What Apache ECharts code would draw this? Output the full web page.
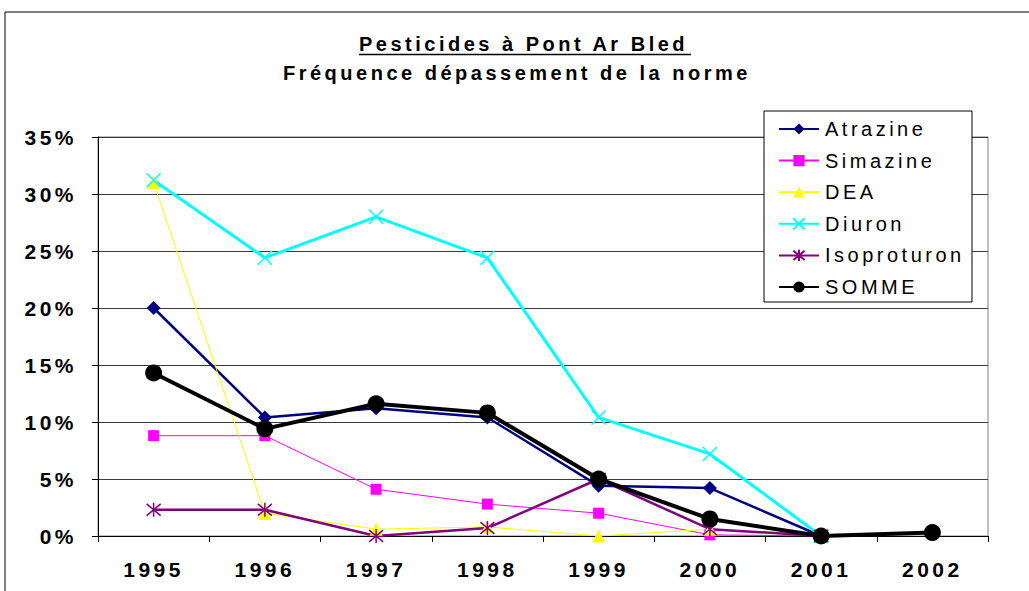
<!DOCTYPE html>
<html>
<head>
<meta charset="utf-8">
<script src="https://cdn.jsdelivr.net/npm/echarts@6/dist/echarts.min.js"></script>
<style>
  html, body { margin: 0; padding: 0; background: #fff; }
  #chart { width: 1029px; height: 591px; }
  /* wide-tracked lettering used throughout the chart */
  #chart svg text { letter-spacing: 3.5px; }
</style>
</head>
<body>
<div id="chart"></div>
<script>
// Years on the category axis
const years = ['1995', '1996', '1997', '1998', '1999', '2000', '2001', '2002'];

// Share of samples above the standard, per pesticide (fraction of 1)
const atrazine    = [0.200, 0.104, 0.112, 0.104, 0.044, 0.042, 0.000, null];
const simazine    = [0.088, 0.088, 0.041, 0.028, 0.020, 0.001, 0.000, null];
const dea         = [0.310, 0.020, 0.006, 0.008, 0.000, 0.006, 0.000, null];
const diuron      = [0.312, 0.244, 0.280, 0.244, 0.104, 0.072, 0.000, null];
const isoproturon = [0.023, 0.023, 0.000, 0.007, 0.050, 0.006, 0.000, null];
const somme       = [0.143, 0.094, 0.116, 0.108, 0.050, 0.015, 0.000, 0.003];

// Y axis ticks
const yMin = 0, yMax = 0.35, yStep = 0.05;

const FONT = '"Liberation Sans", Arial, sans-serif';

const crossPath = 'path://M0,0L10,10M10,0L0,10';
const starPath  = 'path://M0,0L10,10M10,0L0,10M5,-1L5,11';

function lineSeries(name, data, color, width, symbol, size, opts) {
  return Object.assign({
    name, type: 'line', data,
    symbol, symbolSize: size,
    showSymbol: true,
    lineStyle: { color, width },
    itemStyle: { color },
    emphasis: { disabled: true },
    animation: false,
    connectNulls: false
  }, opts || {});
}

const chart = echarts.init(document.getElementById('chart'), null, { renderer: 'svg' });

chart.setOption({
  backgroundColor: '#fff',
  animation: false,
  title: [
    {
      text: 'Pesticides à Pont Ar Bled',
      left: 354, top: 29,
      padding: 5,
      textStyle: { fontFamily: FONT, fontSize: 20, fontWeight: 'bold', color: '#000' }
    },
    {
      text: 'Fréquence dépassement de la norme',
      left: 278, top: 58,
      padding: 5,
      textStyle: { fontFamily: FONT, fontSize: 20, fontWeight: 'bold', color: '#000' }
    }
  ],
  graphic: [
    // outer frame of the chart area
    { type: 'rect', shape: { x: 5, y: 12, width: 1100, height: 700 },
      style: { fill: 'none', stroke: '#000', lineWidth: 1 }, silent: true, z: -10 },
    // title underline
    { type: 'line', shape: { x1: 359, y1: 54.5, x2: 691, y2: 54.5 },
      style: { stroke: '#000', lineWidth: 1.5 }, silent: true },
    // legend frame
    { type: 'rect', shape: { x: 764, y: 111, width: 208, height: 191 },
      style: { fill: '#fff', stroke: '#000', lineWidth: 1 }, silent: true, z: 2 }
  ],
  grid: {
    left: 98, right: 41, top: 137, bottom: 55,
    show: true, borderColor: '#808080', borderWidth: 1,
    containLabel: false
  },
  legend: {
    orient: 'vertical',
    left: 764, top: 111,
    padding: [8, 12, 6, 14],
    itemGap: 11.6,
    itemWidth: 40, itemHeight: 14,
    z: 5,
    textStyle: { fontFamily: FONT, fontSize: 20, color: '#000', padding: [0, 0, 0, 1] },
    data: ['Atrazine', 'Simazine', 'DEA', 'Diuron', 'Isoproturon', 'SOMME']
  },
  xAxis: {
    type: 'category',
    data: years,
    boundaryGap: true,
    axisLine: { lineStyle: { color: '#000', width: 1 } },
    axisTick: { show: true, length: 6, lineStyle: { color: '#000' } },
    axisLabel: { fontFamily: FONT, fontSize: 21, fontWeight: 'bold', color: '#000', margin: 23 },
    splitLine: { show: false }
  },
  yAxis: {
    type: 'value',
    min: yMin, max: yMax, interval: yStep,
    axisLine: { show: true, lineStyle: { color: '#000', width: 1 } },
    axisTick: { show: true, length: 6, lineStyle: { color: '#000' } },
    axisLabel: {
      fontFamily: FONT, fontSize: 21, fontWeight: 'bold', color: '#000', margin: 21,
      formatter: v => Math.round(v * 100) + '%'
    },
    splitLine: { show: true, lineStyle: { color: '#3a3a3a', width: 1 } }
  },
  series: [
    lineSeries('Atrazine', atrazine, '#000080', 2.5, 'diamond', 14),
    lineSeries('Simazine', simazine, '#FF00FF', 1, 'rect', 11),
    lineSeries('DEA', dea, '#FFFF00', 1, 'triangle', 13),
    lineSeries('Diuron', diuron, '#00FFFF', 3, crossPath, 14, {
      itemStyle: { color: 'rgba(0,0,0,0)', borderColor: '#00FFFF', borderWidth: 1.5 }
    }),
    lineSeries('Isoproturon', isoproturon, '#800080', 2.5, starPath, 14, {
      itemStyle: { color: 'rgba(0,0,0,0)', borderColor: '#800080', borderWidth: 1.5 }
    }),
    lineSeries('SOMME', somme, '#000000', 4, 'circle', 17)
  ]
});
</script>
</body>
</html>
